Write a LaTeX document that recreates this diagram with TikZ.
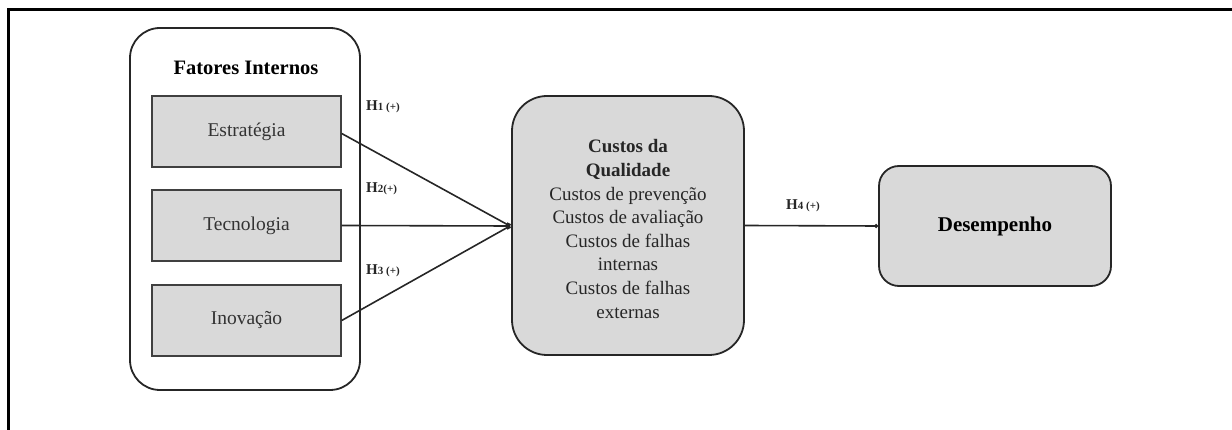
\documentclass[tikz,border=0pt]{standalone}
\usepackage{fontspec}
\setmainfont{Liberation Serif}
\usetikzlibrary{arrows.meta}
\definecolor{boxgray}{HTML}{D9D9D9}
\tikzset{
  outerbox/.style={draw=black!85, line width=1.8pt, rounded corners=30pt, fill=white},
  factorbox/.style={draw=black!75, line width=1.4pt, fill=boxgray, minimum width=189pt, minimum height=71pt, font=\fontsize{19.5}{22}\selectfont, text=black!80},
  bigbox/.style={draw=black!85, line width=1.8pt, fill=boxgray, rounded corners=35pt, minimum width=232pt, minimum height=259pt},
  resbox/.style={draw=black!85, line width=1.8pt, fill=boxgray, rounded corners=20pt, minimum width=232pt, minimum height=120pt, font=\bfseries\fontsize{21}{24}\selectfont},
  conn/.style={draw=black!85, line width=1.6pt},
  hlab/.style={anchor=west, inner sep=0pt, font=\bfseries\fontsize{15}{16}\selectfont, text=black!85}
}
\newcommand{\hsub}[1]{{\fontsize{11}{12}\selectfont #1}}
\begin{document}
\begin{tikzpicture}[x=1pt,y=-1pt]
\useasboundingbox (0,0) rectangle (1232,430);
% frame
\draw[line width=3pt] (8,430) -- (8,10) -- (1232,10);
% outer box
\node[outerbox, minimum width=230pt, minimum height=362pt] (outer) at (245,209) {};
\node[font=\bfseries\fontsize{20.5}{24}\selectfont] (title) at (246,68) {Fatores Internos};
\node[factorbox] (estr) at (246.5,131.5) {Estratégia};
\node[factorbox] (tec) at (246.5,225.5) {Tecnologia};
\node[factorbox] (inov) at (246.5,320.5) {Inovação};
% center
\node[bigbox] (cq) at (628,225.5) {};
\node[align=center, font=\fontsize{19}{23.6}\selectfont, text=black!85] (cqt) at (628,229) {%
{\bfseries Custos da}\\
{\bfseries Qualidade}\\
Custos de prevenção\\
Custos de avaliação\\
Custos de falhas\\
internas\\
Custos de falhas\\
externas};
\coordinate (cqin) at (510,226);
% result
\node[resbox] (des) at (995,226) {Desempenho};
% connectors
\draw[conn, -{Square[length=4pt,width=4pt]}] (estr.east) ++(0,2) -- (cqin);
\draw[conn, -{Square[length=4pt,width=4pt]}] (tec.east) -- (cqin);
\draw[conn, -{Square[length=4pt,width=4pt]}] (inov.east) -- (cqin);
\draw[conn, -{Circle[length=4pt,width=4pt]}] (cq.east) -- (des.west);
% labels
\node[hlab] (h1) at (366,107) {H\hsub{1 (+)}};
\node[hlab] (h2) at (366,189) {H\hsub{2(+)}};
\node[hlab] (h3) at (366,271) {H\hsub{3 (+)}};
\node[hlab] (h4) at (786,206) {H\hsub{4 (+)}};
\end{tikzpicture}
\end{document}
